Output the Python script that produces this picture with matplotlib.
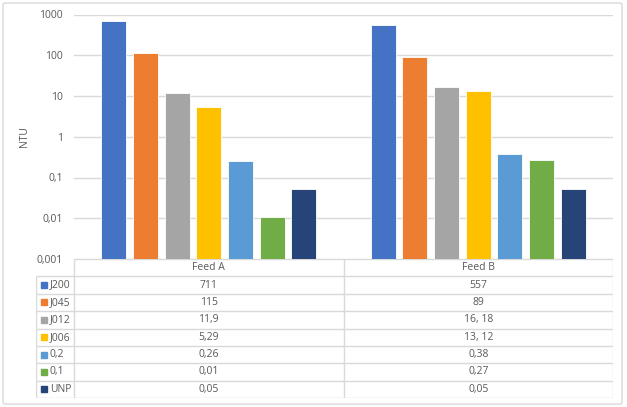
import numpy as np
import matplotlib
matplotlib.use("Agg")
import matplotlib.pyplot as plt
from matplotlib.patches import FancyBboxPatch, Rectangle

# data
feeds = ["Feed A", "Feed B"]
series = ["J200", "J045", "J012", "J006", "0,2", "0,1", "UNP"]
feed_a = [711, 115, 11.9, 5.29, 0.26, 0.01, 0.05]
feed_b = [557, 89, 16.18, 13.12, 0.38, 0.27, 0.05]
table_a = ["711", "115", "11,9", "5,29", "0,26", "0,01", "0,05"]
table_b = ["557", "89", "16, 18", "13, 12", "0,38", "0,27", "0,05"]
y_ticks = [0.001, 0.01, 0.1, 1, 10, 100, 1000]
y_labels = ["0,001", "0,01", "0,1", "1", "10", "100", "1000"]
colors = ["#4472C4", "#ED7D31", "#A5A5A5", "#FFC000", "#5B9BD5", "#70AD47", "#264478"]

plt.rcParams["font.family"] = ["Open Sans", "DejaVu Sans"]
txt_color = "#595959"
grid_color = "#D9D9D9"

W, H = 627, 407
fig = plt.figure(figsize=(W / 100, H / 100), dpi=100)

def px(x0, y0, x1, y1):
    # pixel box (top-left origin) -> figure fraction rect
    return [x0 / W, 1 - y1 / H, (x1 - x0) / W, (y1 - y0) / H]

# outer frame
fig.patches.append(FancyBboxPatch((3 / W, 3 / H), 619 / W, 401 / H,
                                  boxstyle="round,pad=0,rounding_size=0.004",
                                  transform=fig.transFigure, fill=False,
                                  edgecolor=grid_color, linewidth=1))

# bar chart
ax = fig.add_axes(px(74, 14.5, 613, 259))
x = np.arange(len(feeds))
step = 0.1175
width = 0.093
for i, name in enumerate(series):
    vals = [feed_a[i], feed_b[i]]
    ax.bar(x + (i - 3) * step, vals, width, bottom=0.001, color=colors[i],
           edgecolor="white", linewidth=0.6, zorder=3)

ax.set_yscale("log")
ax.set_ylim(0.001, 1000)
ax.set_xlim(-0.5, 1.5)
ax.set_yticks(y_ticks)
ax.set_yticklabels(y_labels)
ax.minorticks_off()
ax.set_xticks([])
ax.tick_params(axis="y", length=0, pad=8, labelsize=7.5, labelcolor=txt_color)
ax.grid(axis="y", color=grid_color, linewidth=1, zorder=0)
for s in ax.spines.values():
    s.set_visible(False)
ax.set_ylabel("NTU", fontsize=7.5, color=txt_color, labelpad=5)

# data table
tab = fig.add_axes(px(36, 259, 613, 398))
tab.set_xlim(36, 613)
tab.set_ylim(398, 259)
tab.axis("off")
col_edges = [36, 74, 343.5, 613]
n_rows = len(series) + 1
row_h = (398 - 259) / n_rows
line_kw = dict(color=grid_color, linewidth=1, solid_capstyle="butt")

# horizontal lines
for r in range(n_rows + 1):
    y = 259 + r * row_h
    x0 = 74 if r == 0 else 36
    tab.plot([x0, 613], [y, y], **line_kw)
# vertical lines
tab.plot([36, 36], [259 + row_h, 398], **line_kw)
for xe in col_edges[1:]:
    tab.plot([xe, xe], [259, 398], **line_kw)

for j, f in enumerate(feeds):
    tab.text((col_edges[j + 1] + col_edges[j + 2]) / 2, 259 + row_h / 2, f,
             ha="center", va="center", fontsize=7.5, color=txt_color)
for i, name in enumerate(series):
    yc = 259 + (i + 1.5) * row_h
    tab.add_patch(Rectangle((41, yc - 3), 6, 6, color=colors[i]))
    tab.text(50, yc, name, ha="left", va="center", fontsize=7.5, color=txt_color)
    tab.text((col_edges[1] + col_edges[2]) / 2, yc, table_a[i],
             ha="center", va="center", fontsize=7.5, color=txt_color)
    tab.text((col_edges[2] + col_edges[3]) / 2, yc, table_b[i],
             ha="center", va="center", fontsize=7.5, color=txt_color)

fig.savefig("out.png", dpi=100)
